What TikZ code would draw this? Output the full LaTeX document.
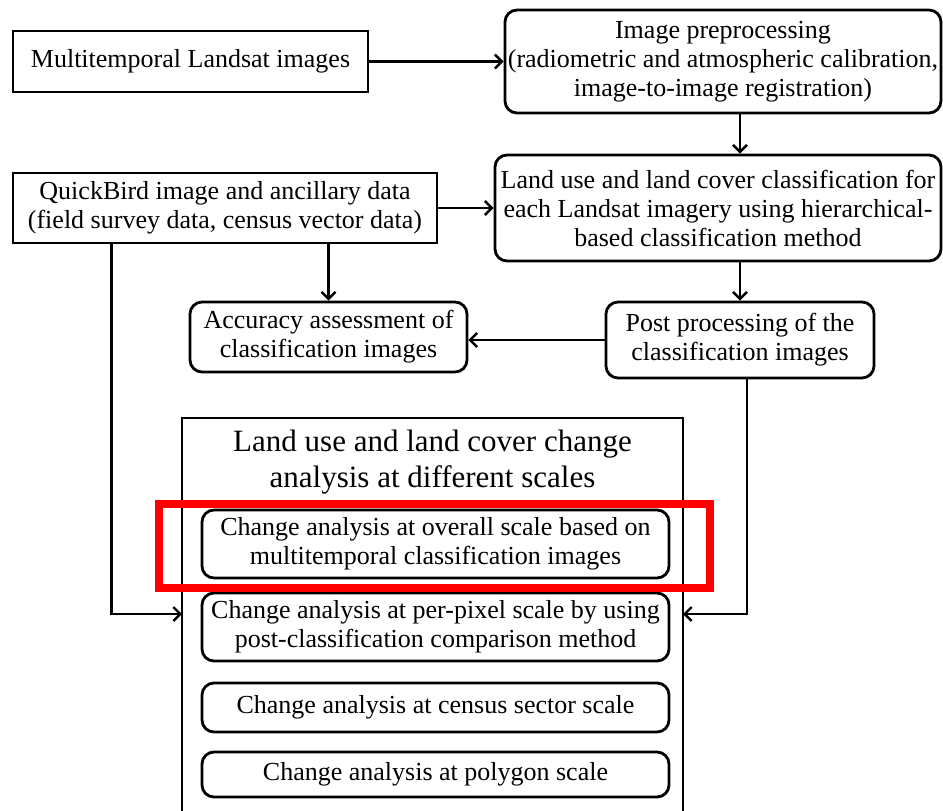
\documentclass[tikz,border=0pt]{standalone}
\usepackage{fontspec}
\setmainfont{Liberation Serif}
\usetikzlibrary{arrows.meta}

\begin{document}
\begin{tikzpicture}[x=0.5pt,y=-0.5pt,
    sharpbox/.style={draw,line width=1.4pt,inner sep=0pt,align=center,
      font=\rmfamily\fontsize{13}{14.5}\selectfont},
    roundbox/.style={sharpbox,rounded corners=6pt},
    flow/.style={line width=1.2pt,-{Straight Barb[length=3.5pt,width=7pt]}}]
    \useasboundingbox (0,0) rectangle (943,810);
    % top row
    \node[sharpbox,minimum width=177.5pt,minimum height=30.5pt] (landsat) at (190.5,61.5)
    {Multitemporal Landsat images};
    \node[roundbox,minimum width=218pt,minimum height=51.5pt] (preproc) at (723,61.5)
    {Image preprocessing\\(radiometric and atmospheric calibration,\\image-to-image registration)};
    % second row
    \node[sharpbox,minimum width=212pt,minimum height=35pt] (quickbird) at (225,208)
    {QuickBird image and ancillary data\\(field survey data, census vector data)};
    \node[roundbox,minimum width=223pt,minimum height=53pt] (classif) at (718,208)
    {Land use and land cover classification for\\each Landsat imagery using hierarchical-\\based classification method};
    % third row
    \node[roundbox,minimum width=138.5pt,minimum height=35pt] (accuracy) at (328.5,337)
    {Accuracy assessment of\\classification images};
    \node[roundbox,minimum width=134pt,minimum height=38pt] (postproc) at (740,340)
    {Post processing of the\\classification images};
    % change analysis frame
    \draw[line width=1.4pt] (182,820) |- (683,418) -- (683,820);
    \node[align=center,font=\rmfamily\fontsize{15.5}{18}\selectfont] (scales) at (432.5,462)
    {Land use and land cover change\\analysis at different scales};
    \node[roundbox,minimum width=233.5pt,minimum height=34pt] (overall) at (435.5,544)
    {Change analysis at overall scale based on\\multitemporal classification images};
    \node[roundbox,minimum width=233.5pt,minimum height=34pt] (perpixel) at (435.5,627)
    {Change analysis at per-pixel scale by using\\post-classification comparison method};
    \node[roundbox,minimum width=233.5pt,minimum height=24.5pt] (census) at (435.5,707.5)
    {Change analysis at census sector scale};
    \node[roundbox,minimum width=233.5pt,minimum height=22.5pt] (polygon) at (435.5,774.5)
    {Change analysis at polygon scale};
    \coordinate (inL) at (182,614);
    \coordinate (inR) at (683,614);
    % highlight
    \draw[red,line width=4pt] (159,504) rectangle (709.5,587.5);
    % connectors
    \draw[flow] (landsat.east) -- (preproc.west);
    \draw[flow] (preproc.south -| postproc.north) -- (classif.north -| postproc.north);
    \draw[flow] (quickbird.east) -- (classif.west);
    \draw[flow] (quickbird.south -| accuracy.north) -- (accuracy.north);
    \draw[flow] (classif.south -| postproc.north) -- (postproc.north);
    \draw[flow] (postproc.west) -- (postproc.west -| accuracy.east);
    \draw[flow] ([xshift=50pt]quickbird.south west) |- (inL);
    \draw[flow] ([xshift=3.5pt]postproc.south) |- (inR);
\end{tikzpicture}
\end{document}
